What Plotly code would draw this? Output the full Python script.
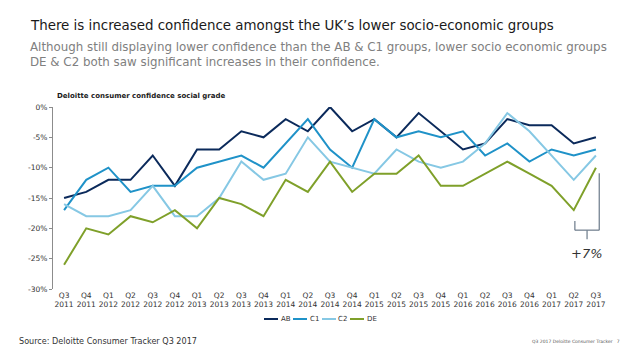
import plotly.graph_objects as go

quarters = ["Q3", "Q4", "Q1", "Q2", "Q3", "Q4", "Q1", "Q2", "Q3", "Q4", "Q1", "Q2", "Q3",
            "Q4", "Q1", "Q2", "Q3", "Q4", "Q1", "Q2", "Q3", "Q4", "Q1", "Q2", "Q3"]
years = ["2011", "2011", "2012", "2012", "2012", "2012", "2013", "2013", "2013", "2013",
         "2014", "2014", "2014", "2014", "2015", "2015", "2015", "2015", "2016", "2016",
         "2016", "2016", "2017", "2017", "2017"]
tick_labels = [f"{q}<br>{y}" for q, y in zip(quarters, years)]

ab = [-15, -14, -12, -12, -8, -13, -7, -7, -4, -5, -2, -4, 0,
      -4, -2, -5, -1, -4, -7, -6, -2, -3, -3, -6, -5]
c1 = [-17, -12, -10, -14, -13, -13, -10, -9, -8, -10, -6, -2, -7,
      -10, -2, -5, -4, -5, -4, -8, -6, -9, -7, -8, -7]
c2 = [-16, -18, -18, -17, -13, -18, -18, -15, -9, -12, -11, -5, -9,
      -10, -11, -7, -9, -10, -9, -6, -1, -4, -8, -12, -8]
de = [-26, -20, -21, -18, -19, -17, -20, -15, -16, -18, -12, -14, -9,
      -14, -11, -11, -8, -13, -13, -11, -9, -11, -13, -17, -10]

series = [("AB", ab, "#0b2a5b"), ("C1", c1, "#1f92c8"),
          ("C2", c2, "#86c8e4"), ("DE", de, "#7fa02a")]

x = list(range(len(tick_labels)))
fig = go.Figure()
for name, vals, col in series:
    fig.add_trace(go.Scatter(x=x, y=vals, name=name, mode="lines", showlegend=False,
                             line=dict(color=col, width=2)))

font_family = "DejaVu Sans"
PH = 182.0  # plot height in px
PW = 554.0  # plot width in px


def py(pix):
    return (289 - pix) / PH


def px(pix):
    return (pix - 53) / PW


fig.update_layout(
    width=638, height=359,
    margin=dict(l=53, r=31, t=107, b=70),
    paper_bgcolor="white", plot_bgcolor="white",
    font=dict(family=font_family, color="#333333"),
    showlegend=False,
    xaxis=dict(range=[-0.5, 24.5], tickmode="array", tickvals=x, ticktext=tick_labels,
               showgrid=False, zeroline=False, showline=False, ticks="",
               tickangle=0, automargin=False,
               tickfont=dict(size=7.5, color="#333333"), fixedrange=True),
    xaxis2=dict(range=[-0.5, 24.5], overlaying="x", side="top", anchor="y",
                tickmode="array", tickvals=[i - 0.5 for i in range(26)],
                ticks="inside", ticklen=3, tickcolor="#8c8c8c", automargin=False,
                showline=True, linecolor="#8c8c8c", linewidth=1,
                showticklabels=False, showgrid=False, zeroline=False),
    yaxis=dict(range=[-30, 0], tickvals=[0, -5, -10, -15, -20, -25, -30],
               ticktext=["0%", "-5%", "-10%", "-15%", "-20%", "-25%", "-30%"],
               showgrid=False, zeroline=False, showline=True, linecolor="#8c8c8c",
               linewidth=1, ticks="outside", ticklen=3, tickcolor="#8c8c8c",
               automargin=False,
               tickfont=dict(size=7.5, color="#333333")),
)

# Compact legend (line sample + label), centred under the chart
leg_x = [264, 293, 322, 350]
for (name, _, col), lx in zip(series, leg_x):
    fig.add_shape(type="line", xref="paper", yref="paper",
                  x0=px(lx), x1=px(lx + 14), y0=py(319), y1=py(319),
                  line=dict(color=col, width=2))
    fig.add_annotation(text=name, xref="paper", yref="paper", x=px(lx + 14.5), y=py(319),
                       xanchor="left", yanchor="middle", showarrow=False,
                       font=dict(size=7, color="#333333", family=font_family))

# Titles
fig.add_annotation(text="There is increased confidence amongst the UK\u2019s lower socio-economic groups",
                   xref="paper", yref="paper", x=px(28), y=py(25), xanchor="left",
                   yanchor="middle", showarrow=False,
                   font=dict(size=13.4, color="#1a1a1a", family=font_family))
fig.add_annotation(text="Although still displaying lower confidence than the AB & C1 groups, lower socio economic groups<br>DE & C2 both saw significant increases in their confidence.",
                   xref="paper", yref="paper", x=px(28), y=py(55), xanchor="left",
                   yanchor="middle", showarrow=False, align="left",
                   font=dict(size=11.85, color="#808080", family=font_family))
fig.add_annotation(text="<b>Deloitte consumer confidence social grade</b>",
                   xref="paper", yref="paper", x=px(55), y=py(96), xanchor="left",
                   yanchor="middle", showarrow=False,
                   font=dict(size=7, color="#1a1a1a", family=font_family))
fig.add_annotation(text="Source: Deloitte Consumer Tracker Q3 2017",
                   xref="paper", yref="paper", x=px(17), y=py(341), xanchor="left",
                   yanchor="middle", showarrow=False,
                   font=dict(size=8.1, color="#333333", family=font_family))
fig.add_annotation(text="Q3 2017 Deloitte Consumer Tracker   7",
                   xref="paper", yref="paper", x=px(622), y=py(341), xanchor="right",
                   yanchor="middle", showarrow=False,
                   font=dict(size=4.5, color="#555555", family=font_family))

# Bracket annotation +7%
bcol = "#6b7a8a"
fig.add_shape(type="line", x0=24.15, x1=24.15, y0=-10.9, y1=-20.3, line=dict(color=bcol, width=1.2))
fig.add_shape(type="line", x0=23.05, x1=24.15, y0=-20.3, y1=-20.3, line=dict(color=bcol, width=1.2))
fig.add_shape(type="line", x0=23.05, x1=23.05, y0=-18.8, y1=-20.3, line=dict(color=bcol, width=1.2))
fig.add_shape(type="line", x0=23.6, x1=23.6, y0=-20.3, y1=-21.8, line=dict(color=bcol, width=1.2))
fig.add_annotation(text="<i>+7%</i>", x=23.6, y=-24.1, showarrow=False,
                   font=dict(size=13, color="#333333", family=font_family))

fig.write_html("out.html", post_script="document.body.style.margin='0';",
               config={"displayModeBar": False})
